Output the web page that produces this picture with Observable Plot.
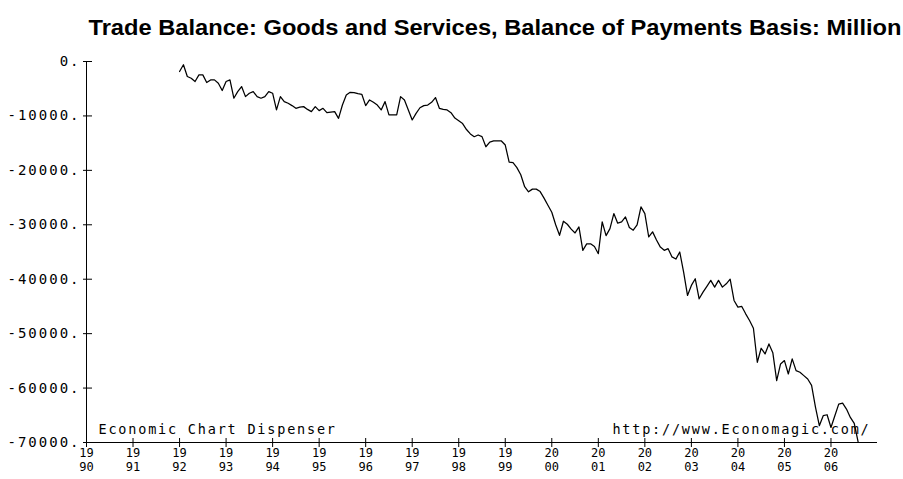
<!DOCTYPE html>
<html><head><meta charset="utf-8">
<script src="https://cdn.jsdelivr.net/npm/d3@7"></script>
<script src="https://cdn.jsdelivr.net/npm/@observablehq/plot@0.6"></script>
<style>
html,body{margin:0;padding:0;background:#fff;}
#chart svg{display:block;}
#chart g[aria-label="y-axis tick label"] text{letter-spacing:2px;}
#chart .foot text{letter-spacing:1.8px;}
</style></head><body><div id="chart"></div>
<script>
const title = "Trade Balance: Goods and Services, Balance of Payments Basis: Million";
const leftNote = "Economic Chart Dispenser";
const rightNote = "http://www.Economagic.com/";
const startYear = 1992; // monthly series, Jan 1992 .. Aug 2006
const balance = [
 -1840,-600,-2760,-3070,-3680,-2460,-2460,-3870,-3380,-3380,-4000,-5340,
 -3680,-3380,-6750,-5530,-4600,-6450,-5830,-5530,-6450,-6750,-6450,-5530,
 -5830,-8900,-6450,-7370,-7680,-8100,-8600,-8400,-8290,-8800,-9210,-8290,
 -9030,-8600,-9400,-9300,-9210,-10440,-8000,-6140,-5650,-5700,-5900,-6020,
 -8100,-7060,-7500,-8000,-8900,-7370,-9820,-9820,-9820,-6450,-7060,-8900,
 -10740,-9520,-8500,-8100,-8000,-7500,-6630,-8600,-8800,-8900,-9400,-10400,
 -10900,-11400,-12500,-13300,-13820,-13500,-13800,-15660,-14800,-14600,-14600,-14600,
 -15350,-18500,-18600,-19500,-20800,-23000,-23950,-23450,-23450,-23900,-25100,-26400,
 -27700,-30000,-31930,-29350,-29900,-30800,-31500,-30400,-34690,-33500,-33500,-34000,
 -35310,-29470,-32000,-30700,-27940,-29700,-29470,-28550,-30500,-31000,-30000,-26710,
 -27940,-32240,-31300,-32800,-34100,-34690,-34390,-35900,-36300,-35000,-38680,-42980,
 -41140,-39920,-43600,-42370,-41300,-40210,-41450,-40210,-41450,-40840,-40000,-43900,
 -45130,-45000,-46360,-47580,-49000,-55260,-52680,-53730,-51890,-53500,-58630,-55560,
 -54950,-57410,-54640,-56790,-57100,-57710,-58330,-59500,-63500,-66920,-65080,-64900,
 -67240,-65080,-62940,-62760,-63860,-65390,-66500,-69900
];
const yTicks = [0,-10000,-20000,-30000,-40000,-50000,-60000,-70000];
const xTickYears = [1990,1991,1992,1993,1994,1995,1996,1997,1998,1999,2000,2001,2002,2003,2004,2005,2006];
const xDomain = [1990, 2007];
const yDomain = [-70000, 0];

const data = balance.map((v, i) => ({date: startYear + i / 12, value: v}));

const plot = Plot.plot({
  width: 903, height: 479,
  marginLeft: 86, marginRight: 26, marginTop: 61, marginBottom: 37,
  style: {fontFamily: "'DejaVu Sans Mono', monospace", fontSize: "12px", color: "#000", background: "#fff", overflow: "hidden"},
  x: {domain: xDomain, label: null},
  y: {domain: yDomain, label: null},
  marks: [
    Plot.axisY({ticks: yTicks, tickFormat: d => `${d}.`, tickSize: 9, dx: 6, tickPadding: 3, fontSize: 14, label: null}),
    Plot.axisX({ticks: xTickYears, tickFormat: d => { const s = String(d); return s.slice(0, 2) + "\n" + s.slice(2); }, tickSize: 9, dy: -4, tickPadding: 0, fontSize: 12, lineHeight: 1.15, label: null}),
    Plot.ruleX([xDomain[0]], {stroke: "#000"}),
    Plot.ruleY([yDomain[0]], {stroke: "#000"}),
    Plot.line(data, {x: "date", y: "value", stroke: "#000", strokeWidth: 1.25}),
    Plot.text([leftNote], {frameAnchor: "bottom-left", dx: 12, dy: -9, textAnchor: "start", lineAnchor: "bottom", fontSize: 13.5, className: "foot"}),
    Plot.text([rightNote], {frameAnchor: "bottom-right", dx: -7, dy: -9, textAnchor: "end", lineAnchor: "bottom", fontSize: 13.5, className: "foot"}),
    Plot.text([title], {frameAnchor: "top-left", dx: 2, dy: -27, textAnchor: "start", lineAnchor: "bottom", fontSize: 22, fontWeight: "bold", fontFamily: "'Liberation Sans Narrow', 'Liberation Sans', Arial, sans-serif", className: "title"})
  ]
});
const t = plot.querySelector(".title text");
if (t) { t.setAttribute("textLength", "813"); t.setAttribute("lengthAdjust", "spacingAndGlyphs"); }
document.getElementById("chart").appendChild(plot);
</script></body></html>
